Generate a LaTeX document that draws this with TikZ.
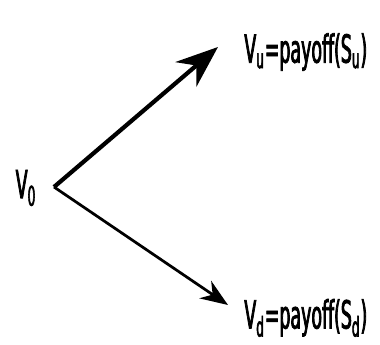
\documentclass[tikz,border=0pt]{standalone}
\usepackage{fontspec}
\setmainfont{DejaVu Sans}[FakeStretch=0.45,FakeBold=2]
\usetikzlibrary{arrows.meta,positioning}

\begin{document}
\begin{tikzpicture}[
  x=0.02cm,y=-0.02cm,
  lbl/.style={inner sep=0pt,font=\fontsize{22}{24}\selectfont},
  branch/.style={-{Stealth[length=#1*6pt,width=#1*4.6pt]},line width=#1*0.6pt},
]
  \useasboundingbox (0,0) rectangle (380,345);
  \node[lbl] (v0) at (26,188) {V\textsubscript{0}};
  \node[lbl,anchor=west] (vu) at (244,52) {V\textsubscript{u}=payoff(S\textsubscript{u})};
  \node[lbl,anchor=west] (vd) at (244,318) {V\textsubscript{d}=payoff(S\textsubscript{d})};

  \coordinate (fork) at (54,187);
  \coordinate (uptip) at (218,47);
  \coordinate (downtip) at (228,305);

  \draw[branch=4] (fork) -- (uptip);
  \draw[branch=2.6] (fork) -- (downtip);
\end{tikzpicture}
\end{document}
